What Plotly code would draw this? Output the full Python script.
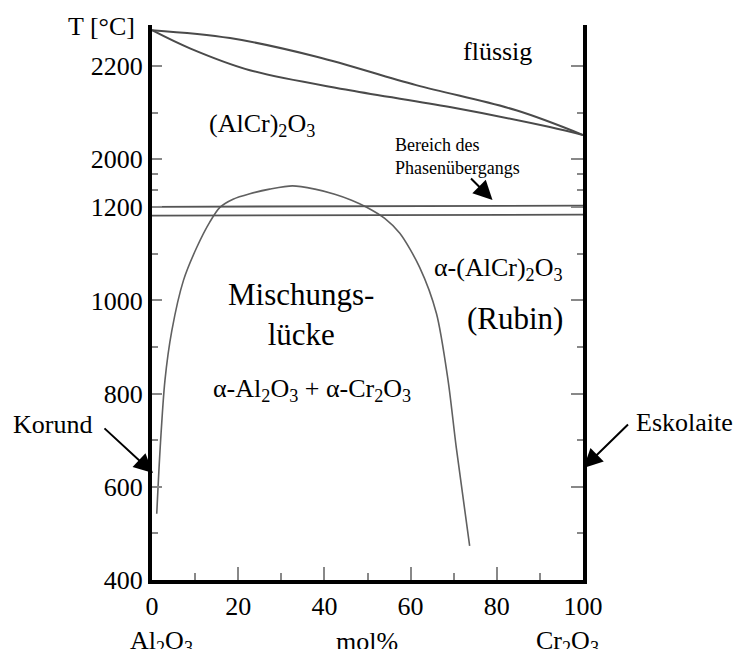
import plotly.graph_objects as go

x_liquidus = [0, 18.1, 38.2, 61.3, 84.5, 100]
T_liquidus = [2277, 2260, 2220, 2159, 2105, 2052]

x_solidus = [0, 8.8, 22.7, 45.9, 69.1, 92.3, 100]
T_solidus = [2277, 2238, 2191, 2148, 2112, 2069, 2052]

x_gap = [1.1, 1.9, 3.0, 4.6, 7.3, 10.4, 13.4, 15.8, 18.8, 22.7, 27.3, 32.6,
         37.8, 42.4, 46.3, 49.8, 54.0, 57.5, 62.1, 66.0, 68.7, 70.6, 73.7]
T_gap = [542, 684, 828, 935, 1043, 1114, 1168, 1200, 1334, 1425, 1501, 1556,
         1501, 1417, 1317, 1200, 1176, 1144, 1071, 972, 828, 684, 473]

x_transition = [0, 100]
T_transition_upper = [1207, 1225]
T_transition_lower = [1182, 1184]

x_ticks = [0, 20, 40, 60, 80, 100]
x_minor = [10, 30, 50, 70, 90]
T_ticks = [400, 600, 800, 1000, 1200, 2000, 2200]
T_ticklabels = ["400", "600", "800", "1000", "1200", "2000", "2200"]
T_minor = [500, 700, 900, 1100, 1484, 1751, 2100]

T_axis_min, T_axis_max = 400, 2288


# broken temperature axis: 1200..2000 °C is compressed
def to_axis(T):
    if T <= 1200:
        return T
    if T <= 2000:
        return 1200 + (T - 1200) * 103.0 / 800.0
    return 1303 + (T - 2000)


def conv(values):
    return [to_axis(v) for v in values]


FONT = "Liberation Serif"
fig = go.Figure()

line_dark = dict(color="#4a4a4a", width=2)
fig.add_trace(go.Scatter(x=x_liquidus, y=conv(T_liquidus), mode="lines",
                         line=dict(**line_dark, shape="spline"), hoverinfo="skip"))
fig.add_trace(go.Scatter(x=x_solidus, y=conv(T_solidus), mode="lines",
                         line=dict(**line_dark, shape="spline"), hoverinfo="skip"))
fig.add_trace(go.Scatter(x=x_gap, y=conv(T_gap), mode="lines",
                         line=dict(color="#606060", width=1.6, shape="spline", smoothing=0.8),
                         hoverinfo="skip"))
fig.add_trace(go.Scatter(x=x_transition, y=conv(T_transition_upper), mode="lines",
                         line=dict(color="#555555", width=1.8), hoverinfo="skip", yaxis="y2"))
fig.add_trace(go.Scatter(x=x_transition, y=conv(T_transition_lower), mode="lines",
                         line=dict(color="#555555", width=1.8), hoverinfo="skip"))

yrange = [to_axis(T_axis_min), to_axis(T_axis_max)]
ytickvals = conv(T_ticks)
yminor = conv(T_minor)

fig.update_layout(
    width=736, height=649,
    margin=dict(l=152, r=152.5, t=25, b=69),
    plot_bgcolor="white", paper_bgcolor="white",
    showlegend=False,
    font=dict(family=FONT, size=26, color="black"),
    xaxis=dict(range=[0, 100], tickvals=x_ticks, ticks="inside", ticklen=13,
               tickwidth=1.5, tickcolor="#888888", showline=True, linewidth=4,
               linecolor="black", showgrid=False, zeroline=False,
               tickfont=dict(family=FONT, size=26, color="black"),
               minor=dict(tickvals=x_minor, ticks="inside", ticklen=7,
                          tickwidth=1.5, tickcolor="#888888")),
    yaxis=dict(range=yrange, tickvals=ytickvals, ticktext=T_ticklabels,
               ticks="inside", ticklen=10, tickwidth=1.5, tickcolor="#888888",
               showline=True, linewidth=4, linecolor="black", showgrid=False,
               zeroline=False, tickfont=dict(family=FONT, size=26, color="black"),
               minor=dict(tickvals=yminor, ticks="inside", ticklen=6,
                          tickwidth=1.5, tickcolor="#888888")),
    yaxis2=dict(range=yrange, tickvals=ytickvals, overlaying="y", side="right",
                anchor="x", showticklabels=False, ticks="inside", ticklen=12,
                tickwidth=1.5, tickcolor="#888888", showline=True, linewidth=4,
                linecolor="black", showgrid=False, zeroline=False,
                minor=dict(tickvals=yminor, ticks="inside", ticklen=6,
                           tickwidth=1.5, tickcolor="#888888")),
)

def label(text, x, y, size=26, xanchor="center", yanchor="middle", align="center"):
    fig.add_annotation(text=text, x=x, y=y, xref="paper", yref="paper",
                       showarrow=False, xanchor=xanchor, yanchor=yanchor, align=align,
                       font=dict(family=FONT, size=size, color="black"))

def arrow(x, y, ax, ay):
    fig.add_annotation(text="", x=x, y=y, xref="paper", yref="paper", ax=ax, ay=ay,
                       showarrow=True, arrowhead=2, arrowsize=1.9, arrowwidth=2,
                       arrowcolor="black")

label("T [°C]", -0.0348, 0.998, xanchor="right")
label("flüssig", 0.802, 0.953)
label("(AlCr)<sub>2</sub>O<sub>3</sub>", 0.255, 0.820)
label("Bereich des<br>Phasenübergangs", 0.5585, 0.805, size=18,
      xanchor="left", yanchor="top", align="left")
arrow(0.790, 0.6847, -23, -23)
label("Mischungs-<br>lücke", 0.3453, 0.4784, size=31)
label("α-Al<sub>2</sub>O<sub>3</sub> + α-Cr<sub>2</sub>O<sub>3</sub>", 0.3708, 0.3423)
label("α-(AlCr)<sub>2</sub>O<sub>3</sub>", 0.804, 0.5604)
label("(Rubin)", 0.8413, 0.472, size=31)
label("Korund", -0.2317, 0.2793)
arrow(0.0023, 0.1928, -50, -46)
label("Eskolaite", 1.2352, 0.2829)
arrow(1.0012, 0.2018, 46, -45)
label("Al<sub>2</sub>O<sub>3</sub>", 0.0209, -0.1117)
label("mol%", 0.4994, -0.1117)
label("Cr<sub>2</sub>O<sub>3</sub>", 0.963, -0.1117)

fig.write_html("out.html", config={"displayModeBar": False},
               post_script="document.body.style.margin='0';"
                           "document.body.style.overflow='hidden';")
